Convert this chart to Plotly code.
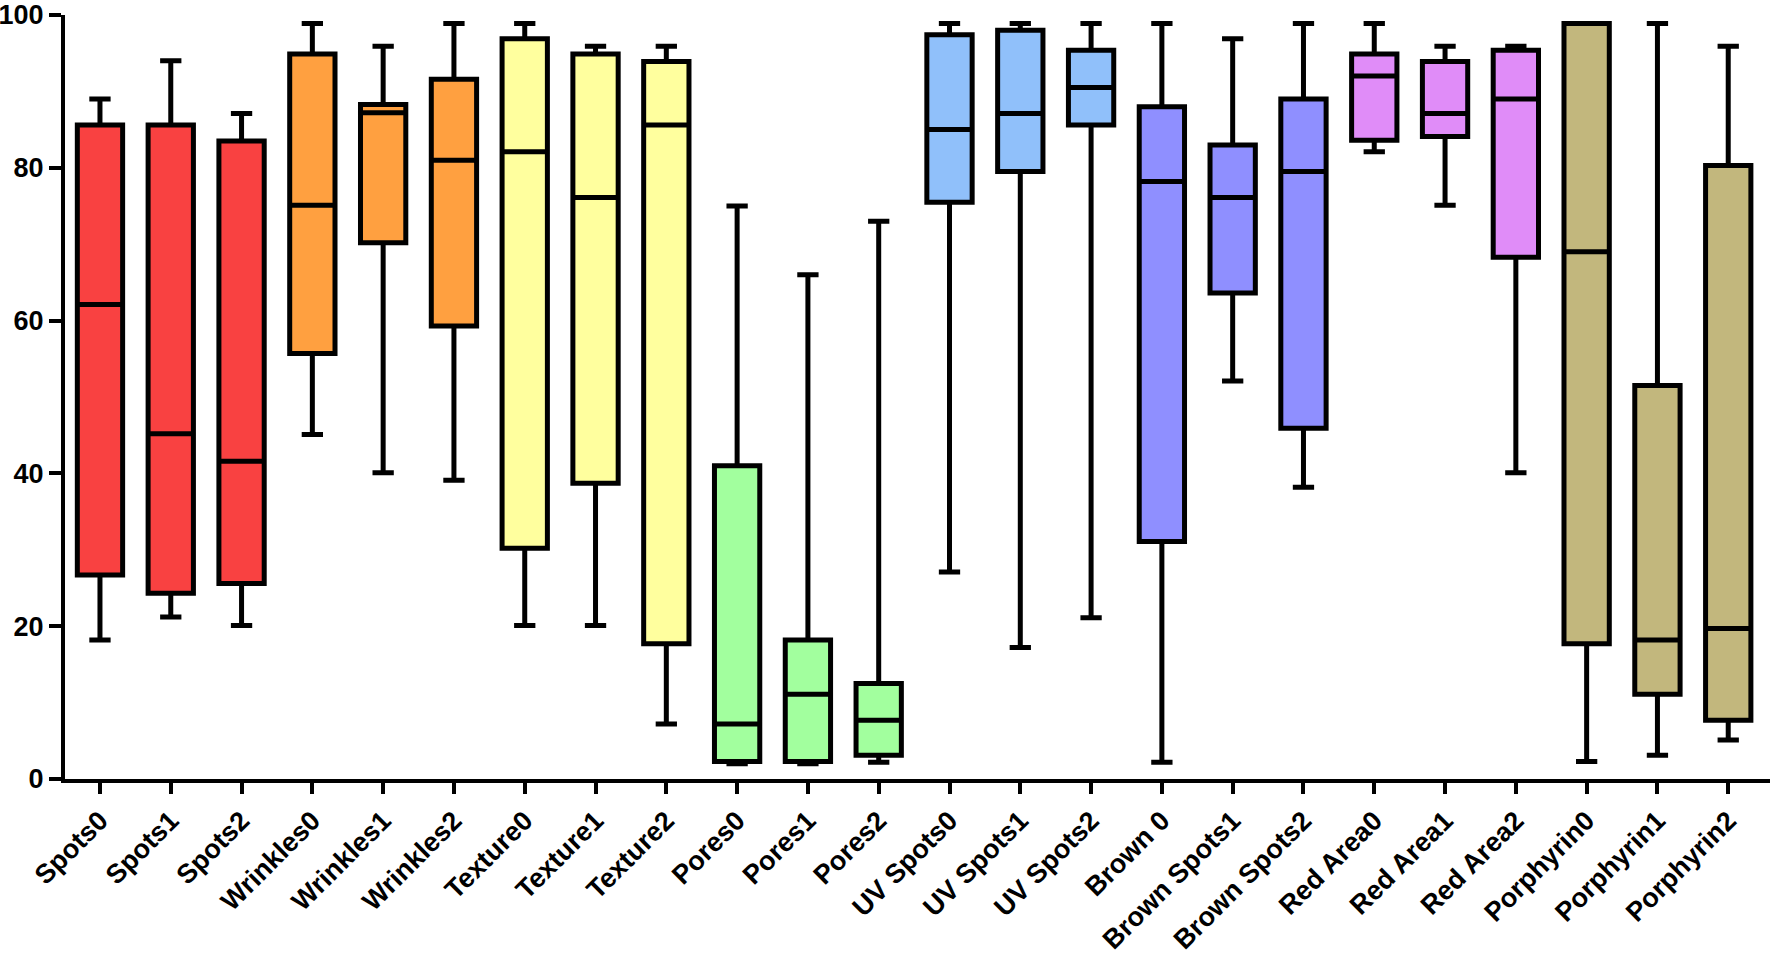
import plotly.graph_objects as go

categories = ["Spots0", "Spots1", "Spots2", "Wrinkles0", "Wrinkles1", "Wrinkles2",
              "Texture0", "Texture1", "Texture2", "Pores0", "Pores1", "Pores2",
              "UV Spots0", "UV Spots1", "UV Spots2", "Brown 0", "Brown Spots1", "Brown Spots2",
              "Red Area0", "Red Area1", "Red Area2", "Porphyrin0", "Porphyrin1", "Porphyrin2"]

lower_whisker = [18.2, 21.2, 20.1, 45.1, 40.1, 39.1,
                 20.1, 20.1, 7.2, 2.0, 2.0, 2.2,
                 27.1, 17.2, 21.1, 2.2, 52.1, 38.2,
                 82.1, 75.1, 40.1, 2.3, 3.1, 5.1]
q1 = [26.7, 24.3, 25.6, 55.7, 70.2, 59.3,
      30.2, 38.7, 17.7, 2.3, 2.3, 3.1,
      75.5, 79.5, 85.6, 31.1, 63.6, 45.9,
      83.6, 84.1, 68.3, 17.7, 11.1, 7.7]
median = [62.1, 45.2, 41.6, 75.1, 87.2, 81.0,
          82.1, 76.1, 85.6, 7.2, 11.1, 7.7,
          85.0, 87.1, 90.5, 78.2, 76.1, 79.5,
          92.0, 87.1, 89.0, 69.0, 18.2, 19.7]
q3 = [85.6, 85.6, 83.5, 94.9, 88.3, 91.6,
      96.9, 94.9, 93.9, 41.0, 18.2, 12.5,
      97.4, 98.0, 95.4, 88.0, 83.0, 89.0,
      94.9, 93.9, 95.4, 98.9, 51.5, 80.3]
upper_whisker = [89.0, 94.0, 87.1, 98.9, 95.9, 98.9,
                 98.9, 95.9, 95.9, 75.0, 66.0, 73.0,
                 98.9, 98.9, 98.9, 98.9, 96.9, 98.9,
                 98.9, 95.9, 95.9, 98.9, 98.9, 95.9]

group_colors = ["#F94141", "#FFA040", "#FFFF9E", "#A2FF9E",
                "#90C0FA", "#8F8FFF", "#E08CF8", "#C2B77D"]

fig = go.Figure()
for g, col in enumerate(group_colors):
    sl = slice(3 * g, 3 * g + 3)
    fig.add_trace(go.Box(
        x=categories[sl],
        q1=q1[sl], median=median[sl], q3=q3[sl],
        lowerfence=lower_whisker[sl], upperfence=upper_whisker[sl],
        fillcolor=col,
        line=dict(color="black", width=5),
        width=0.64,
        whiskerwidth=0.47,
        boxpoints=False,
        hoverinfo="skip",
        showlegend=False,
    ))

fig.update_layout(
    width=1770, height=971,
    margin=dict(l=65, r=0, t=15, b=192, pad=0),
    paper_bgcolor="white", plot_bgcolor="white",
    boxmode="overlay",
    showlegend=False,
    font=dict(family="Liberation Sans, Arial, sans-serif", color="black"),
)
fig.update_xaxes(
    type="category",
    categoryorder="array", categoryarray=categories,
    range=[-0.494, 23.59],
    automargin=False,
    showline=True, linecolor="black", linewidth=4,
    ticks="outside", ticklen=11, tickwidth=4, tickcolor="black",
    tickangle=-45,
    ticklabeloverflow="allow",
    tickfont=dict(size=27, weight="bold", color="black"),
    showgrid=False, zeroline=False,
)
fig.update_yaxes(
    range=[0, 100],
    tickvals=[0, 20, 40, 60, 80, 100],
    automargin=False,
    showline=True, linecolor="black", linewidth=4,
    ticks="outside", ticklen=12, tickwidth=4, tickcolor="black",
    ticklabeloverflow="allow",
    tickfont=dict(size=27, weight="bold", color="black"),
    showgrid=False, zeroline=False,
)

fig.write_html(
    "out.html",
    config={"displayModeBar": False},
    post_script="document.body.style.margin='0px';document.body.style.overflow='hidden';",
)
